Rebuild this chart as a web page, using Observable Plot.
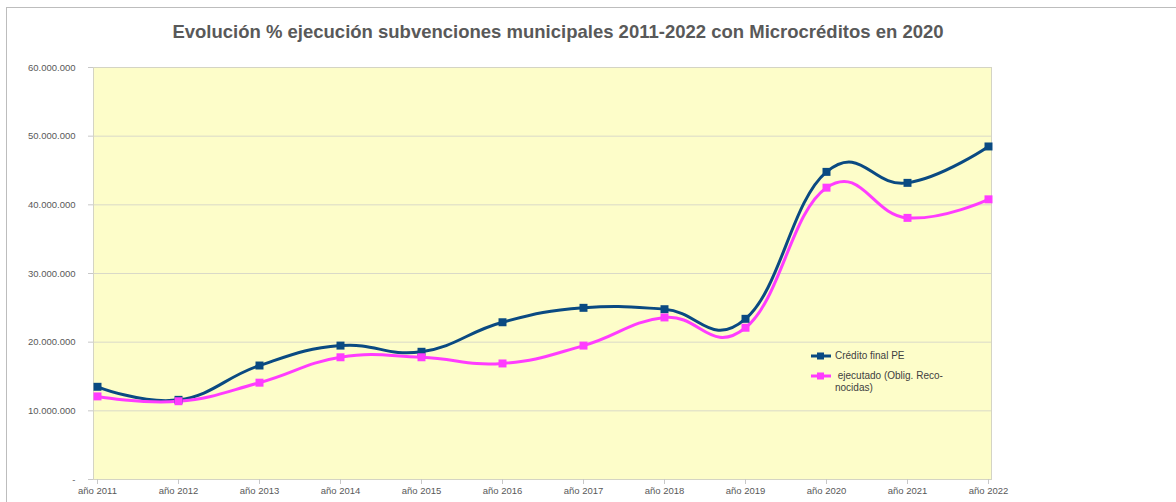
<!DOCTYPE html>
<html>
<head>
<meta charset="utf-8">
<script src="https://cdn.jsdelivr.net/npm/d3@7"></script>
<script src="https://cdn.jsdelivr.net/npm/@observablehq/plot@0.6"></script>
<style>
  html, body { margin: 0; padding: 0; background: #fff; }
  #wrap { position: relative; width: 1176px; height: 502px; overflow: hidden; font-family: "Liberation Sans", Arial, sans-serif; }
  #frame { position: absolute; left: 6px; top: 7px; width: 1200px; height: 520px; border: 1px solid #bdbdbd; box-sizing: border-box; }
  #title { position: absolute; left: 0; top: 21px; width: 1116px; text-align: center; font-weight: bold; font-size: 18.5px; color: #595959; }
  #legend { position: absolute; left: 811px; top: 350px; font-size: 10px; color: #404040; }
  .item { display: flex; align-items: flex-start; margin-bottom: 8px; }
  .item svg { flex: none; margin-right: 4px; margin-top: 1px; }
  #chart { position: absolute; left: 0; top: 0; }
</style>
</head>
<body>
<div id="wrap">
  <div id="frame"></div>
  <div id="chart"></div>
  <div id="title">Evolución % ejecución subvenciones municipales 2011-2022 con Microcréditos en 2020</div>
  <div id="legend"></div>
</div>
<script>
const years = ["año 2011","año 2012","año 2013","año 2014","año 2015","año 2016","año 2017","año 2018","año 2019","año 2020","año 2021","año 2022"];
const creditoFinal = [13.5, 11.6, 16.6, 19.5, 18.6, 22.9, 25.0, 24.8, 23.4, 44.8, 43.2, 48.5].map(v => v * 1e6);
const ejecutado = [12.1, 11.4, 14.1, 17.8, 17.8, 16.9, 19.5, 23.6, 22.1, 42.5, 38.1, 40.8].map(v => v * 1e6);
const seriesNames = ["Crédito final PE", " ejecutado (Oblig. Reco-\nnocidas)"];
const seriesColors = ["#0a4a82", "#ff3cff"];
const yTicks = [0, 10e6, 20e6, 30e6, 40e6, 50e6, 60e6];

const data = [];
years.forEach((y, i) => {
  data.push({year: y, value: creditoFinal[i], series: seriesNames[0]});
  data.push({year: y, value: ejecutado[i], series: seriesNames[1]});
});

const loc = d3.formatLocale({decimal: ",", thousands: ".", grouping: [3], currency: ["", ""]});
const fmt = v => v === 0 ? "-" : loc.format(",.0f")(v);

const plot = Plot.plot({
  width: 1176,
  height: 502,
  marginLeft: 93,
  marginRight: 185,
  marginTop: 67,
  marginBottom: 23,
  style: {fontFamily: "'Liberation Sans', Arial, sans-serif", fontSize: "9.5px", color: "#595959", background: "transparent"},
  x: {type: "point", domain: years, padding: 0, label: null},
  y: {domain: [0, 60e6], label: null},
  color: {domain: seriesNames, range: seriesColors},
  marks: [
    Plot.frame({fill: "#fdfdc9", stroke: "none"}),
    Plot.gridY(yTicks, {stroke: "#d9d9c8", strokeOpacity: 1, strokeWidth: 1}),
    Plot.frame({stroke: "#d4d4c4", strokeWidth: 1}),
    Plot.axisY(yTicks, {tickFormat: fmt, tickSize: 5, tickPadding: 13, stroke: "#c8c8c8", fill: "#595959", fontSize: 9.5, label: null}),
    Plot.axisX({tickSize: 5, tickPadding: 3, stroke: "#c8c8c8", fill: "#595959", fontSize: 9.5, label: null}),
    Plot.line(data, {x: "year", y: "value", z: "series", stroke: "series", strokeWidth: 3, curve: "cardinal", tension: -0.3}),
    Plot.dot(data, {x: "year", y: "value", fill: "series", symbol: "square", r: 4.5, stroke: "none"})
  ]
});
document.getElementById("chart").appendChild(plot);

const legend = document.getElementById("legend");
seriesNames.forEach((name, i) => {
  const item = document.createElement("div");
  item.className = "item";
  item.innerHTML = `<svg width="20" height="10"><line x1="0" y1="5" x2="20" y2="5" stroke="${seriesColors[i]}" stroke-width="3"/><rect x="6" y="1.5" width="7" height="7" fill="${seriesColors[i]}"/></svg>`;
  const span = document.createElement("span");
  span.style.whiteSpace = "pre";
  span.style.lineHeight = "12px";
  span.textContent = name;
  item.appendChild(span);
  legend.appendChild(item);
});
</script>
</body>
</html>
